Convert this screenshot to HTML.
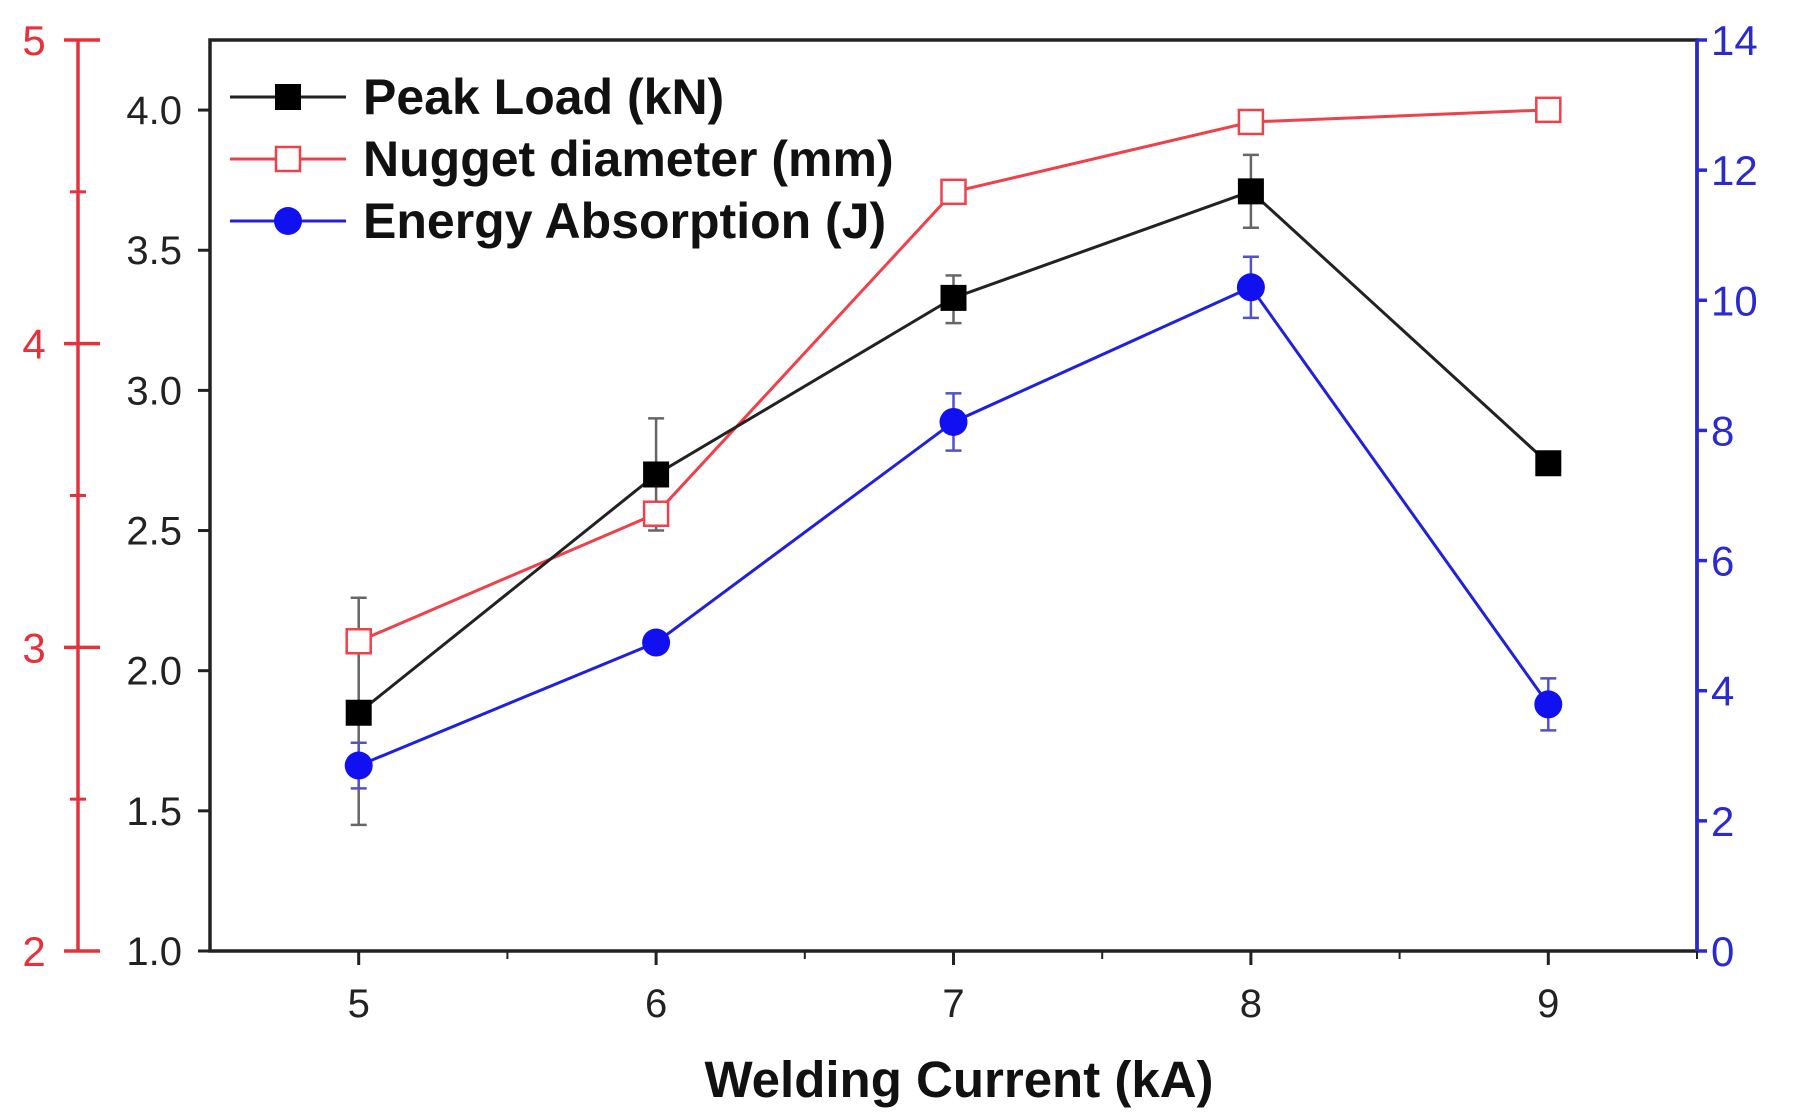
<!DOCTYPE html>
<html><head><meta charset="utf-8"><style>
html,body{margin:0;padding:0;background:#fff;}
svg{display:block;font-family:"Liberation Sans",Arial,sans-serif;}
</style></head><body>
<svg id="chart" width="1796" height="1116" viewBox="0 0 1796 1116"></svg>
<script>
const categories=[5,6,7,8,9];
const peakLoad=[1.85,2.70,3.33,3.71,2.74];
const peakErrHi=[0.41,0.20,0.08,0.13,0];
const peakErrLo=[0.40,0.20,0.09,0.13,0];
const nugget=[3.02,3.44,4.50,4.73,4.77];
const energy=[2.85,4.74,8.13,10.2,3.79];
const energyErr=[0.35,0.1,0.44,0.47,0.4];
const leftTicks=["1.0","1.5","2.0","2.5","3.0","3.5","4.0"];
const redTicks=["2","3","4","5"];
const blueTicks=["0","2","4","6","8","10","12","14"];
const xTicks=["5","6","7","8","9"];

const L=210,R=1697,T=40,B=951;
const xS=v=>L+(v-4.5)/5*(R-L);
const yK=v=>B-(v-1)/3.25*(B-T);
const yR=v=>B-(v-2)/3*(B-T);
const yB=v=>B-v/14*(B-T);
const svg=document.getElementById('chart');
const NS='http://www.w3.org/2000/svg';
function el(tag,attrs,parent){const e=document.createElementNS(NS,tag);for(const k in attrs)e.setAttribute(k,attrs[k]);(parent||svg).appendChild(e);return e;}

const frame=el('rect',{x:L,y:T,width:R-L,height:B-T,fill:'none',stroke:'#222','stroke-width':3.5});


const blueAx=el('line',{x1:R,y1:T,x2:R,y2:B,stroke:'#2a2ad0','stroke-width':3.5});


const redAx=el('line',{x1:78,y1:T,x2:78,y2:B,stroke:'#e8303a','stroke-width':3.5});



leftTicks.forEach(t=>{const v=+t;const y=yK(v);
el('line',{x1:L-12,y1:y,x2:L,y2:y,stroke:'#222','stroke-width':3});
const tx=el('text',{x:L-28,y:y+14,'text-anchor':'end','font-size':40,fill:'#222'});tx.textContent=t;

});
redTicks.forEach(t=>{const v=+t;const y=yR(v);
el('line',{x1:64,y1:y,x2:100,y2:y,stroke:'#e8303a','stroke-width':3.5});
const tx=el('text',{x:34,y:y+15,'text-anchor':'middle','font-size':42,fill:'#e8303a'});tx.textContent=t;


if(v<5){const ym=yR(v+0.5);el('line',{x1:70,y1:ym,x2:86,y2:ym,stroke:'#e8303a','stroke-width':3});}});
blueTicks.forEach(t=>{const v=+t;const y=yB(v);
el('line',{x1:R,y1:y,x2:R+10,y2:y,stroke:'#2a2ad0','stroke-width':3.5});
const tx=el('text',{x:R+14,y:y+15,'font-size':42,fill:'#2a2ad0'});tx.textContent=t;

});
xTicks.forEach(t=>{const v=+t;const x=xS(v);
el('line',{x1:x,y1:B,x2:x,y2:B+14,stroke:'#222','stroke-width':3});
el('line',{x1:xS(v+0.5),y1:B,x2:xS(v+0.5),y2:B+8,stroke:'#222','stroke-width':2});
const tx=el('text',{x:x,y:B+66,'text-anchor':'middle','font-size':40,fill:'#222'});tx.textContent=t;

});
const xt=el('text',{x:959,y:1097,'text-anchor':'middle','font-size':51,'font-weight':'bold',fill:'#111'});xt.textContent='Welding Current (kA)';



function series(vals,yf,color,name){
 const pts=vals.map((v,i)=>xS(categories[i])+','+yf(v)).join(' ');
 const pl=el('polyline',{points:pts,fill:'none',stroke:color,'stroke-width':3});
 
 
}
function ebar(x,y1,y2,color){el('line',{x1:x,y1:y1,x2:x,y2:y2,stroke:color,'stroke-width':2.5});
 el('line',{x1:x-8,y1:y1,x2:x+8,y2:y1,stroke:color,'stroke-width':2.5});
 el('line',{x1:x-8,y1:y2,x2:x+8,y2:y2,stroke:color,'stroke-width':2.5});}

series(nugget,yR,'#f0404a','nugget');
series(peakLoad,yK,'#222','peak-load');
series(energy,yB,'#2020e0','energy');
peakLoad.forEach((v,i)=>{const x=xS(categories[i]);if(peakErrHi[i]>0)ebar(x,yK(v+peakErrHi[i]),yK(v-peakErrLo[i]),'#666');});
energy.forEach((v,i)=>{const x=xS(categories[i]);ebar(x,yB(v+energyErr[i]),yB(v-energyErr[i]),'#5050d0');});
nugget.forEach((v,i)=>{const r=el('rect',{x:xS(categories[i])-12,y:yR(v)-12,width:24,height:24,fill:'#fff',stroke:'#f0404a','stroke-width':2.5});
 
 });
peakLoad.forEach((v,i)=>{const r=el('rect',{x:xS(categories[i])-13,y:yK(v)-13,width:26,height:26,fill:'#000'});
 
 });
energy.forEach((v,i)=>{const c=el('circle',{cx:xS(categories[i]),cy:yB(v),r:14,fill:'#1010f0'});
 
 });

const leg=[['Peak Load (kN)','#222','sq'],['Nugget diameter (mm)','#f0404a','open'],['Energy Absorption (J)','#2020e0','circ']];
leg.forEach((l,i)=>{const y=97+i*62;
 el('line',{x1:230,y1:y,x2:346,y2:y,stroke:l[1],'stroke-width':3});
 if(l[2]=='sq')el('rect',{x:275,y:y-13,width:26,height:26,fill:'#000'});
 else if(l[2]=='open')el('rect',{x:276,y:y-12,width:24,height:24,fill:'#fff',stroke:l[1],'stroke-width':2.5});
 else el('circle',{cx:288,cy:y,r:14,fill:'#1010f0'});
 const t=el('text',{x:363,y:y+17,'font-size':50,'font-weight':'bold',fill:'#111'});t.textContent=l[0];
 
 });
</script>
</body></html>
